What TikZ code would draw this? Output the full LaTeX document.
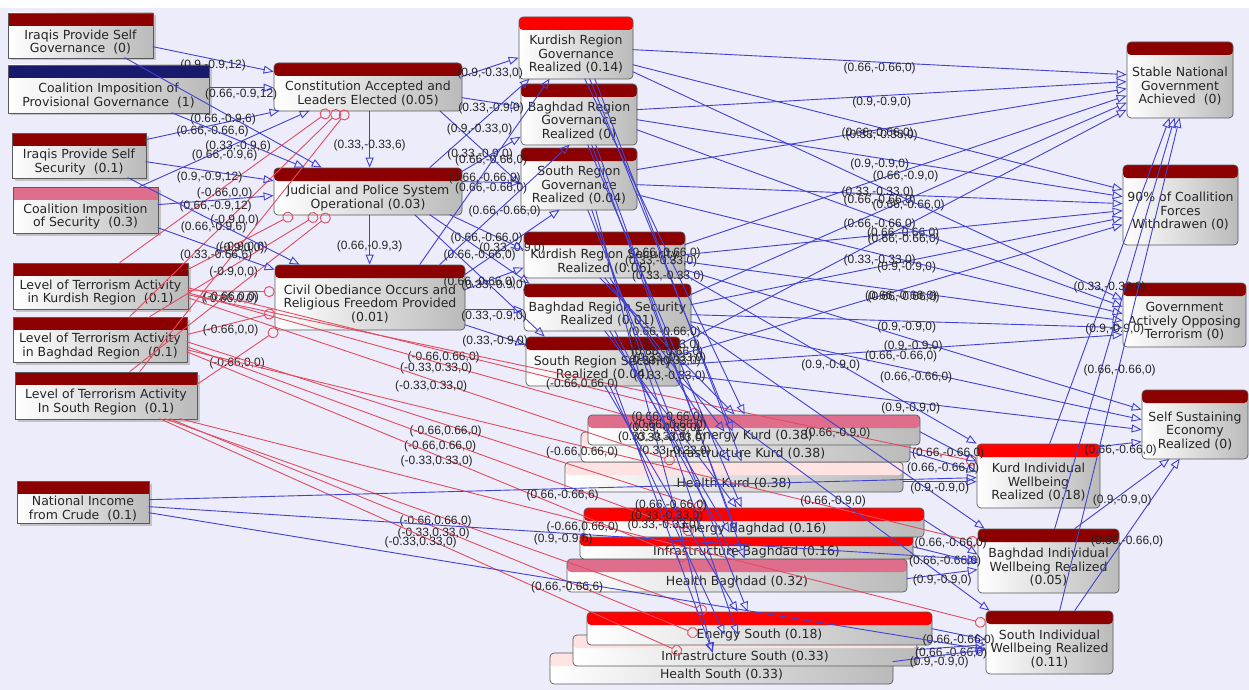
\documentclass[tikz,border=0pt]{standalone}
\usepackage{fontspec}
\setmainfont{DejaVu Sans}
\newfontfamily\lblfont{Liberation Sans}
\usetikzlibrary{arrows.meta,shadows}
\definecolor{bgc}{RGB}{236,236,250}
\definecolor{hdark}{RGB}{140,0,0}
\definecolor{hred}{RGB}{255,0,0}
\definecolor{hpink}{RGB}{222,110,140}
\definecolor{hlight}{RGB}{255,226,226}
\definecolor{hnavy}{RGB}{25,25,110}
\definecolor{eblue}{RGB}{65,65,210}
\definecolor{ered}{RGB}{226,76,96}
\definecolor{bord}{RGB}{90,90,90}
\tikzset{
 boxbase/.style={draw=bord, line width=0.7pt, left color=white, right color=black!27, inner sep=0pt},
 hdr/.style={path picture={\fill[#1] (path picture bounding box.north west) rectangle ([yshift=-13pt]path picture bounding box.north east);}},
 sq/.style={boxbase, drop shadow={shadow xshift=2.5pt, shadow yshift=-2.5pt, fill=black!30, opacity=.7}},
 rnd/.style={boxbase, rounded corners=4pt},
 txt/.style={align=center, font=\fontsize{12.5}{13.5}\selectfont, inner sep=0pt, text=black!85},
 lbl/.style={font=\lblfont\fontsize{12}{12}\selectfont, inner sep=0.5pt, anchor=north, text=black!85},
 be/.style={draw=eblue, line width=0.9pt, -{Triangle[open, length=10pt, width=8pt]}},
 re/.style={draw=ered, line width=0.9pt, -{Circle[open, length=11pt]}},
}
\newcommand\bx[8]{\node[#7, hdr=#6, minimum width={(#4)-(#2)}, minimum height={(#5)-(#3)}, label={[txt, yshift=-6.5pt]center:{#8}}] (#1) at ({((#2)+(#4))/2},{((#3)+(#5))/2}) {};}
\newcommand\bedge[7]{\draw[be] ([shift={(#2,#3)}]#1.north west) -- node[lbl]{#7} ([shift={(#5,#6)}]#4.north west);}
\newcommand\redge[7]{\draw[re] ([shift={(#2,#3)}]#1.north west) -- node[lbl]{#7} ([shift={(#5,#6)}]#4.north west);}
\begin{document}
\begin{tikzpicture}[x=1pt,y=-1pt]
\useasboundingbox (0,0) rectangle (1249,690);
\fill[bgc] (0,0) rectangle (1249,690);
\fill[white] (0,0) rectangle (1249,8);
% left column
\bx{gA}{8}{13}{153}{58}{hdark}{sq}{Iraqis Provide Self\\Governance\ \ (0)}
\bx{gB}{8}{65}{209}{113}{hnavy}{sq}{Coalition Imposition of\\Provisional Governance\ \ (1)}
\bx{gC}{12}{133}{146}{178}{hdark}{sq}{Iraqis Provide Self\\Security\ \ (0.1)}
\bx{gD}{13}{187}{158}{233}{hpink}{sq}{Coalition Imposition\\of Security\ \ (0.3)}
\bx{tK}{13}{263}{188}{309}{hdark}{sq}{Level of Terrorism Activity\\in Kurdish Region\ \ (0.1)}
\bx{tB}{13}{317}{187}{362}{hdark}{sq}{Level of Terrorism Activity\\in Baghdad Region\ \ (0.1)}
\bx{tS}{15}{372}{197}{419}{hdark}{sq}{Level of Terrorism Activity\\In South Region\ \ (0.1)}
\bx{ni}{17}{481}{149}{523}{hdark}{sq}{National Income\\from Crude\ \ (0.1)}
% second column
\bx{cons}{274}{63}{462}{111}{hdark}{rnd}{Constitution Accepted and\\Leaders Elected (0.05)}
\bx{jud}{274}{168}{462}{215}{hdark}{rnd}{Judicial and Police System\\Operational (0.03)}
\bx{civ}{275}{265}{465}{330}{hdark}{rnd}{Civil Obediance Occurs and\\Religious Freedom Provided\\(0.01)}
% governance / security
\bx{kg}{519}{17}{633}{79}{hred}{rnd}{Kurdish Region\\Governance\\Realized (0.14)}
\bx{bg}{521}{84}{637}{145}{hdark}{rnd}{Baghdad Region\\Governance\\Realized (0)}
\bx{sg}{521}{148}{637}{210}{hdark}{rnd}{South Region\\Governance\\Realized (0.04)}
\bx{ks}{524}{232}{685}{278}{hdark}{rnd}{Kurdish Region Security\\Realized (0.06)}
\bx{bs}{524}{284}{691}{331}{hdark}{rnd}{Baghdad Region Security\\Realized (0.01)}
\bx{ss}{526}{337}{680}{386}{hdark}{rnd}{South Region Security\\Realized (0.04)}
% sector stacks
\bx{hk}{565}{462}{903}{492}{hlight}{rnd}{Health Kurd (0.38)}
\bx{ik}{581}{432}{910}{462}{hlight}{rnd}{Infrastructure Kurd (0.38)}
\bx{ek}{588}{415}{920}{445}{hpink}{rnd}{Energy Kurd (0.38)}
\bx{hb}{567}{559}{907}{592}{hpink}{rnd}{Health Baghdad (0.32)}
\bx{ib}{580}{533}{913}{559}{hred}{rnd}{Infrastructure Baghdad (0.16)}
\bx{eb}{584}{508}{924}{537}{hred}{rnd}{Energy Baghdad (0.16)}
\bx{hs}{550}{653}{893}{684}{hlight}{rnd}{Health South (0.33)}
\bx{isth}{573}{635}{917}{666}{hlight}{rnd}{Infrastructure South (0.33)}
\bx{es}{587}{612}{932}{645}{hred}{rnd}{Energy South (0.18)}
% right column
\bx{sn}{1127}{42}{1233}{118}{hdark}{rnd}{Stable National\\Government\\Achieved\ \ (0)}
\bx{wd}{1123}{165}{1238}{245}{hdark}{rnd}{90\% of Coallition\\Forces\\Withdrawen (0)}
\bx{got}{1123}{283}{1246}{347}{hdark}{rnd}{Government\\Actively Opposing\\Terrorism (0)}
\bx{sse}{1142}{390}{1248}{459}{hdark}{rnd}{Self Sustaining\\Economy\\Realized (0)}
\bx{kw}{977}{444}{1100}{508}{hred}{rnd}{Kurd Individual\\Wellbeing\\Realized (0.18)}
\bx{bw}{978}{529}{1119}{593}{hdark}{rnd}{Baghdad Individual\\Wellbeing Realized\\(0.05)}
\bx{sw}{986}{611}{1113}{674}{hdark}{rnd}{South Individual\\Wellbeing Realized\\(0.11)}
% red edges
\redge{tK}{107}{0}{cons}{56}{48}{(-0.66,0,0)}
\redge{tB}{117}{0}{cons}{66}{48}{(-0.9,0,0)}
\redge{tS}{125}{0}{cons}{74}{48}{(-0.9,0,0)}
\redge{tK}{175}{7}{jud}{19}{47}{(-0.9,0,0)}
\redge{tB}{137}{0}{jud}{44}{47}{(-0.9,0,0)}
\redge{tS}{115}{0}{jud}{56}{47}{(-0.66,0,0)}
\redge{tK}{175}{28}{civ}{0}{27}{(-0.66,0,0)}
\redge{tB}{174}{18}{civ}{0}{48}{(-0.66,0,0)}
\redge{tS}{182}{13}{civ}{3}{65}{(-0.66,0,0)}
\redge{tK}{175}{25}{ek}{112}{0}{(-0.66,0.66,0)}
\redge{tK}{175}{30}{ik}{104}{0}{(-0.33,0.33,0)}
\redge{tK}{175}{35}{hk}{110}{0}{(-0.33,0.33,0)}
\redge{tB}{174}{25}{eb}{121}{0}{(-0.66,0.66,0)}
\redge{tB}{174}{30}{ib}{114}{0}{(-0.66,0.66,0)}
\redge{tB}{174}{35}{hb}{120}{0}{(-0.33,0.33,0)}
\redge{tS}{150}{47}{es}{120}{0}{(-0.66,0.66,0)}
\redge{tS}{155}{47}{isth}{125}{0}{(-0.33,0.33,0)}
\redge{tS}{145}{47}{hs}{132}{0}{(-0.33,0.33,0)}
\redge{tK}{175}{32}{kw}{0}{18}{(-0.66,0.66,0)}
\redge{tB}{174}{33}{bw}{0}{14}{(-0.66,0.66,0)}
\redge{tS}{165}{47}{sw}{0}{13}{(-0.66,0.66,0)}
% blue edges: left to second column
\bedge{gA}{145}{34}{cons}{0}{9}{(0.9,-0.9,12)}
\bedge{gB}{201}{23}{cons}{0}{25}{(0.66,-0.9,12)}
\bedge{gC}{134}{7}{cons}{6}{48}{(0.66,-0.66,6)}
\bedge{gD}{127}{0}{cons}{36}{48}{(0.66,-0.9,6)}
\bedge{gA}{117}{45}{jud}{48}{0}{(0.66,-0.9,6)}
\bedge{gB}{164}{48}{jud}{31}{0}{(0.33,-0.9,6)}
\bedge{gC}{134}{29}{jud}{0}{13}{(0.9,-0.9,12)}
\bedge{gD}{145}{18}{jud}{0}{28}{(0.66,-0.9,12)}
\bedge{gC}{116}{45}{civ}{25}{0}{(0.66,-0.9,6)}
\bedge{gD}{145}{41}{civ}{0}{5}{(0.33,-0.66,6)}
\bedge{cons}{96}{48}{jud}{96}{0}{(0.33,-0.33,6)}
\bedge{jud}{96}{47}{civ}{95}{0}{(0.66,-0.9,3)}
% second column to governance / security
\bedge{cons}{188}{14}{kg}{0}{41}{(0.9,-0.33,0)}
\bedge{cons}{188}{35}{bg}{0}{23}{(0.33,-0.9,0)}
\bedge{cons}{166}{48}{sg}{0}{37}{(0.33,-0.9,0)}
\bedge{jud}{156}{0}{kg}{11}{62}{(0.9,-0.33,0)}
\bedge{jud}{188}{4}{bg}{0}{53}{(0.66,-0.66,0)}
\bedge{jud}{188}{14}{sg}{0}{35}{(0.66,-0.66,0)}
\bedge{civ}{145}{0}{kg}{31}{62}{(0.66,-0.66,0)}
\bedge{civ}{165}{0}{bg}{49}{61}{(0.66,-0.66,0)}
\bedge{civ}{190}{10}{sg}{39}{62}{(0.33,-0.9,0)}
\bedge{jud}{176}{47}{ks}{0}{18}{(0.66,-0.66,0)}
\bedge{jud}{156}{47}{bs}{6}{0}{(0.66,-0.66,0)}
\bedge{jud}{141}{47}{ss}{19}{0}{(0.66,-0.66,0)}
\bedge{civ}{190}{25}{ks}{0}{36}{(0.33,-0.9,0)}
\bedge{civ}{190}{45}{bs}{0}{26}{(0.33,-0.9,0)}
\bedge{civ}{190}{60}{ss}{0}{8}{(0.33,-0.9,0)}
% governance / security to sectors
\bedge{kg}{66}{62}{ek}{157}{0}{(0.66,-0.66,0)}
\bedge{kg}{71}{62}{ik}{152}{0}{(0.33,-0.33,0)}
\bedge{kg}{76}{62}{hk}{177}{0}{(0.33,-0.33,0)}
\bedge{bg}{67}{61}{eb}{158}{0}{(0.66,-0.66,0)}
\bedge{bg}{71}{61}{ib}{157}{0}{(0.33,-0.33,0)}
\bedge{bg}{75}{61}{hb}{178}{0}{(0.33,-0.33,0)}
\bedge{sg}{67}{62}{es}{161}{0}{(0.66,-0.66,0)}
\bedge{sg}{71}{62}{isth}{165}{0}{(0.33,-0.33,0)}
\bedge{sg}{75}{62}{hs}{163}{0}{(0.33,-0.33,0)}
\bedge{ks}{76}{46}{ek}{147}{0}{(0.66,-0.66,0)}
\bedge{ks}{81}{46}{ik}{144}{0}{(0.33,-0.33,0)}
\bedge{ks}{86}{46}{hk}{165}{0}{(0.33,-0.33,0)}
\bedge{bs}{81}{47}{eb}{153}{0}{(0.66,-0.66,0)}
\bedge{bs}{86}{47}{ib}{150}{0}{(0.33,-0.33,0)}
\bedge{bs}{91}{47}{hb}{168}{0}{(0.33,-0.33,0)}
\bedge{ss}{79}{49}{es}{151}{0}{(0.66,-0.66,0)}
\bedge{ss}{84}{49}{isth}{152}{0}{(0.33,-0.33,0)}
\bedge{ss}{89}{49}{hs}{163}{0}{(0.33,-0.33,0)}
% to goals
\bedge{kg}{114}{33}{sn}{0}{33}{(0.66,-0.66,0)}
\bedge{bg}{116}{26}{sn}{0}{40}{(0.9,-0.9,0)}
\bedge{sg}{116}{22}{sn}{0}{47}{(0.33,-0.33,0)}
\bedge{ks}{161}{13}{sn}{0}{54}{(0.66,-0.9,0)}
\bedge{bs}{167}{11}{sn}{0}{61}{(0.66,-0.66,0)}
\bedge{ss}{154}{8}{sn}{0}{68}{(0.66,-0.66,0)}
\bedge{kg}{114}{48}{wd}{0}{25}{(0.66,-0.66,0)}
\bedge{bg}{116}{36}{wd}{0}{32}{(0.9,-0.9,0)}
\bedge{sg}{116}{37}{wd}{0}{39}{(0.66,-0.66,0)}
\bedge{ks}{161}{23}{wd}{0}{46}{(0.66,-0.66,0)}
\bedge{bs}{167}{21}{wd}{0}{53}{(0.9,-0.9,0)}
\bedge{ss}{154}{18}{wd}{0}{60}{(0.66,-0.66,0)}
\bedge{kg}{114}{55}{got}{0}{17}{(0.33,-0.33,0)}
\bedge{bg}{116}{46}{got}{0}{24}{(0.66,-0.66,0)}
\bedge{sg}{116}{47}{got}{0}{31}{(0.33,-0.33,0)}
\bedge{ks}{161}{30}{got}{0}{38}{(0.66,-0.66,0)}
\bedge{bs}{167}{31}{got}{0}{45}{(0.9,-0.9,0)}
\bedge{ss}{154}{28}{got}{0}{52}{(0.66,-0.66,0)}
\bedge{ks}{161}{38}{sse}{0}{20}{(0.9,-0.9,0)}
\bedge{bs}{167}{38}{sse}{0}{30}{(0.66,-0.66,0)}
\bedge{ss}{154}{38}{sse}{0}{40}{(0.9,-0.9,0)}
% security to wellbeing
\bedge{ks}{161}{43}{kw}{0}{0}{(0.9,-0.9,0)}
\bedge{bs}{167}{41}{bw}{7}{0}{(0.66,-0.9,0)}
\bedge{ss}{151}{43}{sw}{4}{0}{(0.66,-0.9,0)}
% sectors to wellbeing
\bedge{ek}{332}{17}{kw}{0}{18}{(0.66,-0.66,0)}
\bedge{ik}{329}{20}{kw}{0}{28}{(0.66,-0.66,0)}
\bedge{hk}{338}{20}{kw}{0}{38}{(0.9,-0.9,0)}
\bedge{eb}{340}{12}{bw}{0}{26}{(0.66,-0.66,0)}
\bedge{ib}{333}{14}{bw}{0}{34}{(0.66,-0.66,0)}
\bedge{hb}{340}{20}{bw}{0}{41}{(0.9,-0.9,0)}
\bedge{es}{345}{17}{sw}{0}{29}{(0.66,-0.66,0)}
\bedge{isth}{344}{15}{sw}{0}{34}{(0.66,-0.66,0)}
\bedge{hs}{343}{9}{sw}{0}{39}{(0.9,-0.9,0)}
% national income to wellbeing
\bedge{ni}{132}{19}{kw}{0}{34}{(0.66,-0.66,6)}
\bedge{ni}{132}{26}{bw}{0}{31}{(0.9,-0.9,6)}
\bedge{ni}{132}{32}{sw}{0}{39}{(0.66,-0.66,6)}
% wellbeing to goals
\bedge{kw}{123}{3}{sse}{0}{52}{(0.66,-0.66,0)}
\bedge{bw}{97}{0}{sse}{28}{69}{(0.9,-0.9,0)}
\bedge{sw}{89}{0}{sse}{38}{69}{(0.66,-0.66,0)}
\bedge{kw}{73}{0}{sn}{43}{76}{(0.33,-0.33,0)}
\bedge{bw}{77}{0}{sn}{48}{76}{(0.9,-0.9,0)}
\bedge{sw}{74}{0}{sn}{53}{76}{(0.66,-0.66,0)}
\end{tikzpicture}
\end{document}
